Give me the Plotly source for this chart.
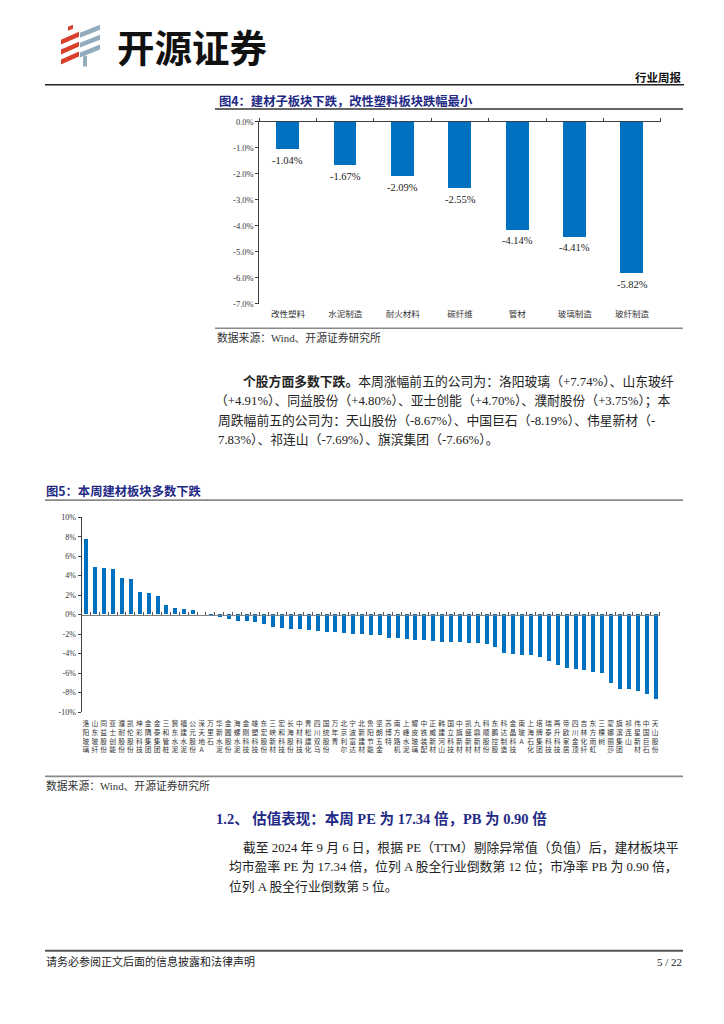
import plotly.graph_objects as go

W, H = 724, 1024

# ---------------- data ----------------
sub_cats = ["改性塑料", "水泥制造", "耐火材料", "碳纤维", "管材", "玻璃制造", "玻纤制造"]
sub_vals = [-1.04, -1.67, -2.09, -2.55, -4.14, -4.41, -5.82]

stock_names = [
    "洛阳玻璃", "山东玻纤", "同益股份", "亚士创能", "濮耐股份", "凯伦股份", "坤彩科技", "金隅集团",
    "金泰集团", "三和管桩", "冀东水泥", "福建水泥", "公元股份", "深天地A", "万里石", "华新水泥",
    "金圆股份", "海螺水泥", "金刚科技", "雄塑科技", "东宏股份", "三峡新材", "宏和科技", "长海股份",
    "中材科技", "青松建化", "四川双马", "国统股份", "万年青", "北京利尔", "宁波富达", "北新建材",
    "鲁阳节能", "坚朗五金", "苏博特", "南方路机", "上峰水泥", "耀皮玻璃", "中铁装配", "正威新材",
    "韩建河山", "国立科技", "中旗新材", "凯盛新材", "九鼎新材", "科顺股份", "东鹏控股", "科达制造",
    "金晶科技", "南玻A", "上海石化", "塔牌集团", "瑞泰科技", "再升科技", "帝欧家居", "四川金顶",
    "吉林化纤", "东方雨虹", "三棵树", "蒙娜丽莎", "旗滨集团", "祁连山", "伟星新材", "中国巨石",
    "天山股份",
]
stock_vals = [
    7.74, 4.91, 4.80, 4.70, 3.75, 3.65, 2.30, 2.22, 1.93, 0.95, 0.68, 0.54, 0.50, 0.00,
    -0.17, -0.30, -0.50, -0.68, -0.71, -0.78, -0.95, -1.29, -1.42, -1.49, -1.53, -1.63,
    -1.69, -1.80, -1.83, -1.93, -1.97, -1.98, -2.07, -2.10, -2.44, -2.47, -2.54, -2.58,
    -2.68, -2.71, -2.81, -2.82, -2.85, -2.92, -2.95, -3.08, -3.39, -4.00, -4.03, -4.17,
    -4.20, -4.34, -4.75, -5.19, -5.53, -5.59, -5.76, -5.90, -6.00, -7.02, -7.66, -7.69,
    -7.83, -8.19, -8.67,
]

sub_ticks = [0, -1, -2, -3, -4, -5, -6, -7]
stock_ticks = [10, 8, 6, 4, 2, 0, -2, -4, -6, -8, -10]

# ---------------- helpers ----------------
def px(x):
    return x / W

def py(y):
    return 1 - y / H

BAR = "#0070C0"
NAVY = "#1F2A86"
SERIF = "Liberation Serif, Noto Sans CJK SC"
SANS = "Noto Sans CJK SC"

fig = go.Figure()

# ---------------- chart 1 ----------------
n1 = len(sub_cats)
fig.add_trace(go.Bar(
    x=list(range(n1)), y=sub_vals, marker_color=BAR, marker_line_width=0,
    width=0.4, xaxis="x", yaxis="y", hoverinfo="skip",
))
fig.add_trace(go.Scatter(x=[-0.5, n1 - 0.5], y=[0, 0], xaxis="x2", yaxis="y",
                         mode="lines", line=dict(width=0), opacity=0, hoverinfo="skip"))

# ---------------- chart 2 ----------------
n2 = len(stock_names)
fig.add_trace(go.Bar(
    x=list(range(n2)), y=stock_vals, marker_color=BAR, marker_line_width=0,
    width=0.45, xaxis="x3", yaxis="y2", hoverinfo="skip",
))
fig.add_trace(go.Scatter(x=[-0.5, n2 - 0.5], y=[0, 0], xaxis="x4", yaxis="y2",
                         mode="lines", line=dict(width=0), opacity=0, hoverinfo="skip"))

# domains
x1d = [px(259.3), px(660.7)]
y1d = [py(301.7), py(118)]
x2d = [px(81.5), px(659.5)]
y2d = [py(714), py(517.3)]
r2 = [-10, 10]
zero_pos = y2d[0] + (0 - r2[0]) / (r2[1] - r2[0]) * (y2d[1] - y2d[0])

AX = "#404040"
fig.update_layout(
    width=W, height=H, margin=dict(l=0, r=0, t=0, b=0),
    paper_bgcolor="white", plot_bgcolor="white", showlegend=False,
    bargap=0,
    xaxis=dict(domain=x1d, anchor="y", range=[-0.5, n1 - 0.5], tickvals=list(range(n1)),
               ticktext=sub_cats, showline=False, ticks="", showgrid=False, zeroline=False,
               tickfont=dict(family=SANS, size=8.5, color="#333"), ticklabelstandoff=4),
    xaxis2=dict(domain=x1d, overlaying="x", anchor="y", side="top", range=[-0.5, n1 - 0.5],
                tickvals=[i - 0.5 for i in range(n1 + 1)], showticklabels=False,
                showline=True, linecolor=AX, linewidth=1, ticks="outside", ticklen=3,
                tickcolor=AX, showgrid=False, zeroline=False),
    yaxis=dict(domain=y1d, anchor="x", range=[-7, 0], tickvals=sub_ticks,
               ticktext=[f"{v:.1f}%" for v in sub_ticks], showline=True, linecolor=AX,
               linewidth=1, ticks="outside", ticklen=3, tickcolor=AX, showgrid=False,
               zeroline=False, tickfont=dict(family=SERIF, size=8.5, color="#333")),
    xaxis3=dict(domain=x2d, anchor="y2", range=[-0.5, n2 - 0.5], tickvals=list(range(n2)),
                ticktext=["<br>".join(list(s)) for s in stock_names], showline=False,
                ticks="", showgrid=False, zeroline=False, tickangle=0,
                tickfont=dict(family=SANS, size=6.8, color="#333"), ticklabelstandoff=6),
    xaxis4=dict(domain=x2d, overlaying="x3", anchor="free", position=zero_pos, side="top",
                range=[-0.5, n2 - 0.5], tickvals=[i - 0.5 for i in range(n2 + 1)],
                showticklabels=False, showline=True, linecolor="#808080", linewidth=1,
                ticks="outside", ticklen=2.5, tickcolor="#555", showgrid=False, zeroline=False),
    yaxis2=dict(domain=y2d, anchor="x3", range=r2, tickvals=stock_ticks,
                ticktext=[f"{v}%" for v in stock_ticks], showline=True, linecolor=AX,
                linewidth=1, ticks="outside", ticklen=3, tickcolor=AX, showgrid=False,
                zeroline=False, tickfont=dict(family=SERIF, size=8, color="#333")),
)

# ---------------- page decorations ----------------
shapes = []

def hline(y, x0, x1, color, w):
    shapes.append(dict(type="line", xref="paper", yref="paper", x0=px(x0), x1=px(x1),
                       y0=py(y), y1=py(y), line=dict(color=color, width=w)))

hline(80.5, 45, 684, "#222", 1.6)
hline(105, 215, 683, "#333", 1.6)
hline(326.5, 215, 683, "#8a8a8a", 1.6)
hline(500, 45, 683, "#8a8a8a", 1.6)
hline(779, 45, 683, "#8a8a8a", 1.6)
hline(955, 45, 683, "#555", 2)

def poly(pts, color):
    d = "M " + " L ".join(f"{px(x):.5f},{py(y):.5f}" for x, y in pts) + " Z"
    shapes.append(dict(type="path", xref="paper", yref="paper", path=d,
                       fillcolor=color, line=dict(width=0)))

RED = "#D9402B"
GRAY = "#93ACBD"
for top in (35, 45, 55):
    poly([(61, top), (79, top - 8), (79, top - 3), (61, top + 5)], RED)
for top in (28, 38, 48):
    poly([(80, top), (100, top - 8), (100, top - 3), (80, top + 5)], GRAY)
poly([(83, 52), (87, 51), (87, 62), (83, 62)], GRAY)
poly([(68, 22), (73, 20), (73, 24), (68, 26)], RED)

fig.update_layout(shapes=shapes)

# ---------------- texts ----------------
ann = []

def txt(x, y, s, size, color="#222", family=SERIF, anchor="left"):
    ann.append(dict(x=px(x), y=py(y), xref="paper", yref="paper", text=s, showarrow=False,
                    xanchor=anchor, yanchor="middle", font=dict(family=family, size=size, color=color)))

# data labels of chart 1 (placed at each bar end, below it)
for i, v in enumerate(sub_vals):
    ann.append(dict(x=i, y=v, xref="x", yref="y", text=f"{v:.2f}%", showarrow=False,
                    xanchor="center", yanchor="top", yshift=-4,
                    font=dict(family=SERIF, size=10.5, color="#222")))

txt(115, 41, "<b>开源证券</b>", 37.5, "#111", SANS)
txt(684, 73, "<b>行业周报</b>", 11.5, "#111", SANS, "right")
txt(217, 97, "<b>图4：建材子板块下跌，改性塑料板块跌幅最小</b>", 12.3, NAVY, SANS)
txt(215, 336, "数据来源：Wind、开源证券研究所", 10.8, "#333")

fs = 12.8
txt(241, 380, "<b>个股方面多数下跌。</b>本周涨幅前五的公司为：洛阳玻璃（+7.74%）、山东玻纤", fs)
txt(213, 400, "（+4.91%）、同益股份（+4.80%）、亚士创能（+4.70%）、濮耐股份（+3.75%）；本", fs)
txt(216, 420, "周跌幅前五的公司为：天山股份（-8.67%）、中国巨石（-8.19%）、伟星新材（-", fs)
txt(216, 439, "7.83%）、祁连山（-7.69%）、旗滨集团（-7.66%）。", fs)

txt(44, 491, "<b>图5：本周建材板块多数下跌</b>", 12.3, NAVY, SANS)
txt(44, 788, "数据来源：Wind、开源证券研究所", 10.8, "#333")

txt(214, 822, "<b>1.2、 估值表现：本周 PE 为 17.34 倍，PB 为 0.90 倍</b>", 14.5, NAVY)
txt(241, 851, "截至 2024 年 9 月 6 日，根据 PE（TTM）剔除异常值（负值）后，建材板块平", fs)
txt(227, 871, "均市盈率 PE 为 17.34 倍，位列 A 股全行业倒数第 12 位；市净率 PB 为 0.90 倍，", fs)
txt(227, 890, "位列 A 股全行业倒数第 5 位。", fs)

txt(44, 966, "请务必参阅正文后面的信息披露和法律声明", 11, "#222")
txt(684, 966, "5 / 22", 11, "#222", SERIF, "right")

fig.update_layout(annotations=ann)

fig.write_html(
    "out.html",
    config={"displayModeBar": False},
    post_script="document.body.style.margin='0';document.body.style.overflow='hidden';",
)
